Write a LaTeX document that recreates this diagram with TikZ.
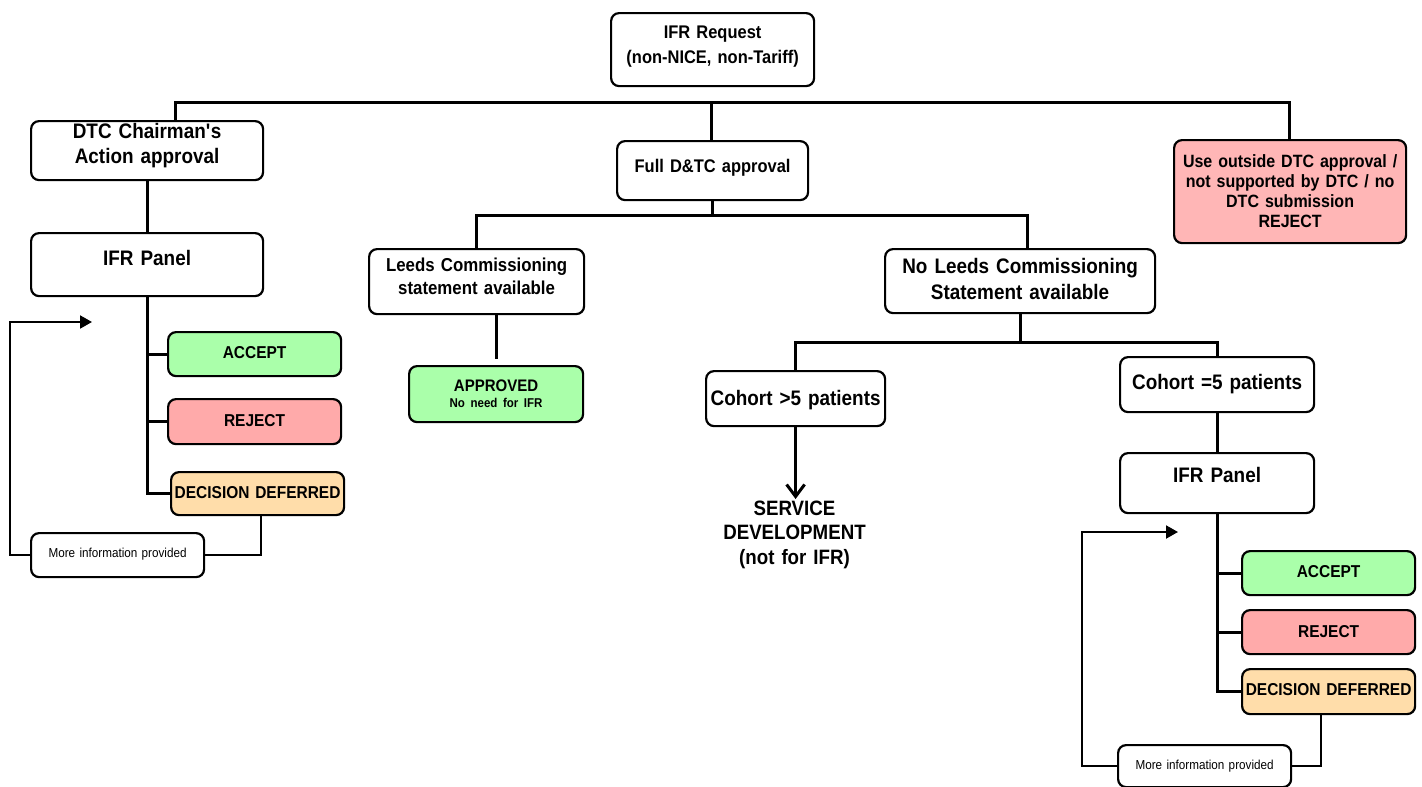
\documentclass[tikz,border=0pt]{standalone}
\usepackage{fontspec}
\setmainfont{Liberation Sans}[FakeStretch=0.9]
\usetikzlibrary{arrows.meta,calc}
\newcommand\myfs[2]{\fontsize{#1}{#2}\selectfont\bfseries}
\definecolor{gr}{RGB}{170,255,170}
\definecolor{pk}{RGB}{255,170,170}
\definecolor{pkl}{RGB}{255,182,182}
\definecolor{pch}{RGB}{255,221,170}
\tikzset{
  bx/.style={draw, line width=2.2pt, rounded corners=8pt, inner sep=0pt, align=center, anchor=north west},
  tree/.style={line width=3pt},
  fb/.style={line width=2pt},
  tip/.style={-{Triangle[length=12pt,width=13pt]}}
}
\begin{document}
\begin{tikzpicture}[x=1pt,y=-1pt]
\useasboundingbox (0,0) rectangle (1422,787);
% top
\node[bx, text width=203pt, text height=25pt, text depth=48pt, font=\myfs{18.3}{25}] (req) at (610,12) {IFR Request\\(non-NICE, non-Tariff)};
\node[bx, text width=232pt, text height=17pt, text depth=42pt, font=\myfs{21}{25}] (dtc) at (30,120) {DTC Chairman\textquotesingle s\\Action approval};
\node[bx, text width=191pt, text height=31.7pt, text depth=27.3pt, font=\myfs{18.3}{25}] (full) at (616,140) {Full D\&TC approval};
\node[bx, fill=pkl, text width=232pt, text height=27pt, text depth=76pt, font=\myfs{17.8}{20}] (out) at (1173,139) {Use outside DTC approval /\\not supported by DTC / no\\DTC submission\\REJECT};
% left column
\node[bx, text width=232pt, text height=32pt, text depth=31pt, font=\myfs{21}{25}] (panL) at (30,232) {IFR Panel};
\node[bx, fill=gr, text width=173pt, text height=26pt, text depth=18pt, font=\myfs{17.2}{20}] (accL) at (167,331) {ACCEPT};
\node[bx, fill=pk, text width=173pt, text height=27pt, text depth=18pt, font=\myfs{17.2}{20}] (rejL) at (167,398) {REJECT};
\node[bx, fill=pch, text width=173pt, text height=26pt, text depth=17pt, font=\myfs{17.2}{20}] (defL) at (170,471) {DECISION DEFERRED};
\node[bx, text width=173pt, text height=24.7pt, text depth=19.3pt, font=\fontsize{13}{14}\selectfont] (moreL) at (30,532) {More information provided};
% middle
\node[bx, text width=215pt, text height=22pt, text depth=43pt, font=\myfs{18.7}{23.5}] (leeds) at (368,248) {Leeds Commissioning\\statement available};
\node[bx, fill=gr, text width=174pt, text height=25pt, text depth=31pt, font=\myfs{16.7}{16}] (appr) at (408,365) {APPROVED\\{\fontsize{12.8}{16}\selectfont No need for IFR}};
\node[bx, text width=270pt, text height=24.7pt, text depth=39.3pt, font=\myfs{21}{26}] (noleeds) at (884,248) {No Leeds Commissioning\\Statement available};
\node[bx, text width=179pt, text height=34pt, text depth=21pt, font=\myfs{21}{25}] (cohA) at (705,370) {Cohort >5 patients};
\node[inner sep=0pt, anchor=north, align=center, text width=170pt, text height=16pt, text depth=52pt, font=\myfs{20.8}{24.5}] (service) at (794.5,499) {SERVICE\\DEVELOPMENT\\(not for IFR)};
% right column
\node[bx, text width=194pt, text height=32pt, text depth=23pt, font=\myfs{21}{25}] (cohB) at (1119,356) {Cohort =5 patients};
\node[bx, text width=194pt, text height=29.7pt, text depth=30.3pt, font=\myfs{21}{25}] (panR) at (1119,452) {IFR Panel};
\node[bx, fill=gr, text width=173pt, text height=26pt, text depth=18pt, font=\myfs{17.2}{20}] (accR) at (1241,550) {ACCEPT};
\node[bx, fill=pk, text width=173pt, text height=27pt, text depth=17pt, font=\myfs{17.2}{20}] (rejR) at (1241,609) {REJECT};
\node[bx, fill=pch, text width=173pt, text height=26pt, text depth=19pt, font=\myfs{17.2}{20}] (defR) at (1241,668) {DECISION DEFERRED};
\node[bx, text width=173pt, text height=24pt, text depth=18pt, font=\fontsize{13}{14}\selectfont] (moreR) at (1117,744) {More information provided};
% junction coordinates
\coordinate (j0) at (711,102);
\coordinate (jl) at (175,102);
\coordinate (jr) at (1289,102);
\coordinate (jm) at (711,215);
\coordinate (jmr) at (1027,215);
\coordinate (jn) at (1019,342);
\coordinate (aL1) at (10,322);
\coordinate (aL2) at (92,322);
\coordinate (aR1) at (1082,532);
\coordinate (aR2) at (1178,532);
% top tree
\draw[tree] (jl |- dtc.north) -- (jl) -- (jr) -- (jr |- out.north);
\draw[tree] (j0) -- (j0 |- full.north);
% left
\draw[tree] (dtc.south) -- (panL.north);
\draw[tree] (panL.south) |- (defL.west);
\draw[tree] (panL.south |- accL.west) -- (accL.west);
\draw[tree] (panL.south |- rejL.west) -- (rejL.west);
\draw[fb] ($(defL.south west)!0.52!(defL.south east)$) |- (moreL.east);
\draw[fb, tip] (moreL.west) -| (aL1) -- (aL2);
% middle
\draw[tree] (full.south) -- (full.south |- jm);
\draw[tree] (leeds.north) |- (jmr) -- (jmr |- noleeds.north);
\draw[tree] (appr.north |- leeds.south) -- ($(appr.north)+(0,-6)$);
\draw[tree] (noleeds.south) -- (noleeds.south |- jn);
\draw[tree] (cohA.north) |- (jn) -| (cohB.north);
\draw[tree, -{Straight Barb[length=12pt,width=18pt]}] (cohA.south) -- (cohA.south |- service.north);
% right
\draw[tree] (cohB.south) -- (panR.north);
\draw[tree] (panR.south) |- (defR.west);
\draw[tree] (panR.south |- accR.west) -- (accR.west);
\draw[tree] (panR.south |- rejR.west) -- (rejR.west);
\draw[fb] ($(defR.south west)!0.457!(defR.south east)$) |- (moreR.east);
\draw[fb, tip] (moreR.west) -| (aR1) -- (aR2);
\end{tikzpicture}
\end{document}
